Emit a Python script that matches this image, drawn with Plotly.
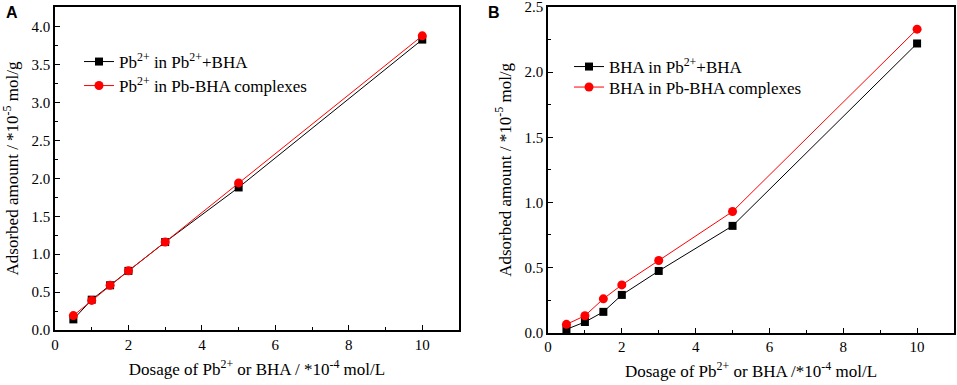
import plotly.graph_objects as go

W, H = 957, 385

dosage = [0.5, 1, 1.5, 2, 3, 5, 10]
a_mixed = [0.14, 0.40, 0.59, 0.78, 1.16, 1.88, 3.83]
a_complex = [0.19, 0.39, 0.59, 0.78, 1.16, 1.94, 3.88]
b_mixed = [0.026, 0.082, 0.16, 0.29, 0.474, 0.82, 2.22]
b_complex = [0.064, 0.13, 0.26, 0.367, 0.554, 0.93, 2.33]

x_ticks = [0, 2, 4, 6, 8, 10]
ya_ticks = [0.0, 0.5, 1.0, 1.5, 2.0, 2.5, 3.0, 3.5, 4.0]
yb_ticks = [0.0, 0.5, 1.0, 1.5, 2.0, 2.5]

names_a = ["Pb<sup>2+</sup> in Pb<sup>2+</sup>+BHA", "Pb<sup>2+</sup> in Pb-BHA complexes"]
names_b = ["BHA in Pb<sup>2+</sup>+BHA", "BHA in Pb-BHA complexes"]

SERIF = "'Liberation Serif', 'Times New Roman', Times, serif"

fig = go.Figure()

def add(x, y, name, color, symbol, size, xa, ya, legend):
    fig.add_trace(go.Scatter(
        x=x, y=y, name=name, mode="lines+markers",
        line=dict(color=color, width=1),
        marker=dict(color=color, symbol=symbol, size=size),
        xaxis=xa, yaxis=ya, legend=legend, cliponaxis=False, showlegend=True,
    ))

add(dosage, a_mixed, names_a[0], "black", "square", 8, "x", "y", "legend")
add(dosage, a_complex, names_a[1], "#ff0000", "circle", 9, "x", "y", "legend2")
add(dosage, b_mixed, names_b[0], "black", "square", 8, "x2", "y2", "legend3")
add(dosage, b_complex, names_b[1], "#ff0000", "circle", 9, "x2", "y2", "legend4")

def px(x):
    return x / W

def py(y):
    return 1 - y / H

axis_common = dict(
    showline=True, linecolor="black", linewidth=1.5, mirror=True,
    ticks="inside", ticklen=5, tickwidth=1, tickcolor="black",
    showgrid=False, zeroline=False, automargin=False,
    ticklabeloverflow="allow",
    tickfont=dict(family=SERIF, size=15, color="black"),
)

title_font = dict(family=SERIF, size=17, color="black")

def xminor():
    return dict(ticks="inside", ticklen=3, tickcolor="black", dtick=1, tick0=0)

def yminor():
    return dict(ticks="inside", ticklen=3, tickcolor="black", dtick=0.25, tick0=0)

def leg(xp, yc):
    return dict(x=px(xp), y=py(yc), xanchor="left", yanchor="middle",
                bgcolor="rgba(0,0,0,0)", font=dict(family=SERIF, size=17, color="black"),
                itemwidth=30, visible=True)

fig.update_layout(
    width=W, height=H,
    showlegend=True,
    margin=dict(l=0, r=0, t=0, b=0, autoexpand=False),
    paper_bgcolor="white", plot_bgcolor="white",
    font=dict(family=SERIF, color="black"),
    xaxis=dict(domain=[px(55), px(459)], range=[0, 11], tickvals=x_ticks,
               minor=xminor(),
               title=dict(text="Dosage of Pb<sup>2+</sup> or BHA / *10<sup>-4</sup> mol/L", font=title_font, standoff=11),
               anchor="y", **axis_common),
    yaxis=dict(domain=[py(330), py(7)], range=[0, 4.26], tickvals=ya_ticks, tickformat=".1f",
               minor=yminor(),
               title=dict(text="Adsorbed amount / *10<sup>-5</sup> mol/g", font=title_font, standoff=9),
               anchor="x", **axis_common),
    xaxis2=dict(domain=[px(548), px(954)], range=[0, 11], tickvals=x_ticks,
                minor=xminor(),
                title=dict(text="Dosage of Pb<sup>2+</sup> or BHA /*10<sup>-4</sup> mol/L", font=title_font, standoff=11),
                anchor="y2", **axis_common),
    yaxis2=dict(domain=[py(332.7), py(7)], range=[0, 2.5], tickvals=yb_ticks, tickformat=".1f",
                minor=yminor(),
                title=dict(text="Adsorbed amount / *10<sup>-5</sup> mol/g", font=title_font, standoff=9),
                anchor="x2", **axis_common),
    legend=leg(79, 62),
    legend2=leg(79, 86),
    legend3=leg(569, 67),
    legend4=leg(569, 87.5),
    annotations=[
        dict(text="<b>A</b>", x=px(4), y=py(2), xref="paper", yref="paper",
             xanchor="left", yanchor="top", showarrow=False,
             font=dict(family="Liberation Sans, Arial, sans-serif", size=16, color="black")),
        dict(text="<b>B</b>", x=px(486), y=py(2), xref="paper", yref="paper",
             xanchor="left", yanchor="top", showarrow=False,
             font=dict(family="Liberation Sans, Arial, sans-serif", size=16, color="black")),
    ],
)

fig.write_html("out.html", config={"displayModeBar": False},
               post_script="document.body.style.margin='0';document.body.style.overflow='hidden';")
